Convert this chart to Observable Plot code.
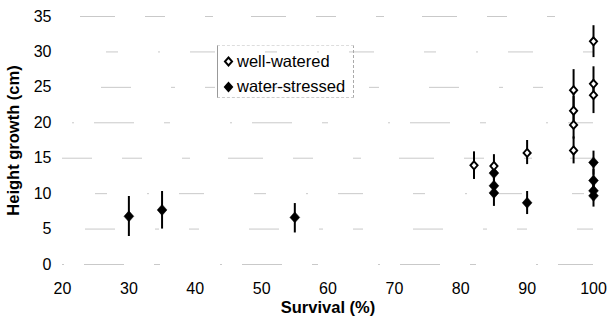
<!DOCTYPE html>
<html>
<head>
<meta charset="utf-8">
<script src="https://cdn.jsdelivr.net/npm/d3@7"></script>
<script src="https://cdn.jsdelivr.net/npm/@observablehq/plot@0.6"></script>
<style>
  html, body { margin: 0; padding: 0; background: #fff; }
  #wrap { position: relative; width: 607px; height: 329px; font-family: "Liberation Sans", Arial, Helvetica, sans-serif; }
  #legend { position: absolute; left: 217px; top: 45px; width: 137px; height: 53px;
    border-left: 1px solid #999; border-right: 1px dashed #aaa; border-top: 1px dashed #ddd; border-bottom: 1px dashed #ccc;
    box-sizing: border-box; font-size: 16.5px; color: #000; }
  #legend .row { position: absolute; left: 5px; display: flex; align-items: center; white-space: nowrap; }
  #legend svg { margin-right: 3px; }
</style>
</head>
<body>
<div id="wrap"></div>
<script>
// ---- data ----
const xTicks = [20, 30, 40, 50, 60, 70, 80, 90, 100];
const yTicks = [0, 5, 10, 15, 20, 25, 30, 35];
const xTitle = "Survival (%)";
const yTitle = "Height growth (cm)";
const seriesNames = ["well-watered", "water-stressed"];

const survivalWW = [82, 85, 90, 97, 97, 97, 97, 100, 100, 100];
const heightWW   = [14.0, 13.9, 15.75, 24.6, 21.7, 19.7, 16.1, 31.5, 25.5, 23.9];
const lowWW      = [12.0, 12.4, 14.1, 21.7, 19.7, 17.7, 14.2, 29.2, 23.3, 21.3];
const highWW     = [15.9, 15.5, 17.5, 27.5, 23.7, 21.7, 18.0, 33.7, 27.9, 26.0];

const survivalWS = [30, 35, 55, 85, 85, 85, 90, 100, 100, 100, 100];
const heightWS   = [6.8, 7.7, 6.65, 12.9, 11.1, 10.1, 8.7, 14.4, 11.85, 10.4, 9.7];
const lowWS      = [3.95, 5.0, 4.45, 11.5, 9.7, 8.2, 7.05, 12.6, 10.3, 9.0, 8.1];
const highWS     = [9.6, 10.3, 8.6, 14.3, 12.5, 11.6, 10.3, 16.0, 13.4, 11.8, 11.3];

// ---- build tables ----
const ww = survivalWW.map((s, i) => ({s, h: heightWW[i], lo: lowWW[i], hi: highWW[i]}));
const ws = survivalWS.map((s, i) => ({s, h: heightWS[i], lo: lowWS[i], hi: highWS[i]}));

const diamond = {
  draw(ctx, size) {
    const r = Math.sqrt(size / Math.PI);
    const h = r * 1.12;
    ctx.moveTo(0, -h); ctx.lineTo(r, 0); ctx.lineTo(0, h); ctx.lineTo(-r, 0); ctx.closePath();
  }
};

const dashes = ["2,20,40,30,6,60", "10,50,30,40,4,30", "2,30,25,50,12,40", "20,40,8,38,35,30"];
const gridMarks = yTicks.map((t, i) => Plot.ruleY([t], {
  stroke: "#888", strokeOpacity: 0.45, strokeWidth: 1,
  strokeDasharray: dashes[i % dashes.length], strokeDashoffset: i * 37
}));

const chart = Plot.plot({
  width: 607, height: 329,
  marginLeft: 62, marginRight: 14, marginTop: 16, marginBottom: 65,
  style: {fontSize: "16px", fontFamily: "'Liberation Sans', Arial, Helvetica, sans-serif", color: "#000", background: "#fff", overflow: "visible"},
  x: {domain: [20, 100], ticks: xTicks, tickSize: 0, tickPadding: 18, label: null},
  y: {domain: [0, 35], ticks: yTicks, tickSize: 0, tickPadding: 11, label: null},
  marks: [
    ...gridMarks,
    Plot.ruleX(ww, {x: "s", y1: "lo", y2: "hi", stroke: "#000", strokeWidth: 2}),
    Plot.ruleX(ws, {x: "s", y1: "lo", y2: "hi", stroke: "#000", strokeWidth: 2}),
    Plot.dot(ws, {x: "s", y: "h", symbol: diamond, r: 4.9, fill: "#000", stroke: "#000", strokeWidth: 0.5}),
    Plot.dot(ww, {x: "s", y: "h", symbol: diamond, r: 3.6, fill: "#fff", stroke: "#000", strokeWidth: 1.9}),
    Plot.text([xTitle], {text: d => d, frameAnchor: "bottom", dy: 48, fontWeight: "bold", fontSize: 16.5}),
    Plot.text([yTitle], {text: d => d, frameAnchor: "left", textAnchor: "middle", dx: -49, rotate: -90, fontWeight: "bold", fontSize: 16.5})
  ]
});

const wrap = document.getElementById("wrap");
wrap.appendChild(chart);

const legend = document.createElement("div");
legend.id = "legend";
const symOpen = '<svg width="11" height="11" viewBox="-5.5 -5.5 11 11"><path d="M0,-4L3.6,0L0,4L-3.6,0Z" fill="#fff" stroke="#000" stroke-width="1.9"/></svg>';
const symFill = '<svg width="11" height="12" viewBox="-5.5 -6 11 12"><path d="M0,-5.5L4.9,0L0,5.5L-4.9,0Z" fill="#000"/></svg>';
legend.innerHTML =
  `<div class="row" style="top:6px">${symOpen}<span>${seriesNames[0]}</span></div>` +
  `<div class="row" style="top:31px">${symFill}<span>${seriesNames[1]}</span></div>`;
wrap.appendChild(legend);
</script>
</body>
</html>
